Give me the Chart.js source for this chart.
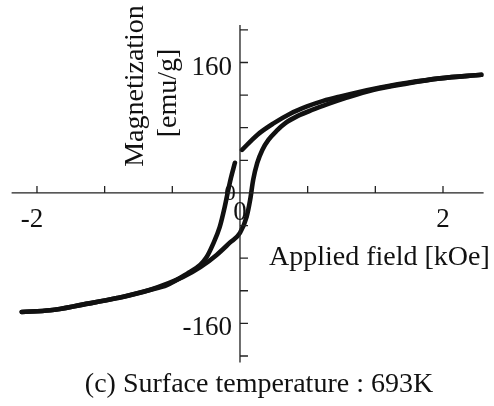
<!DOCTYPE html>
<html>
<head>
<meta charset="utf-8">
<script src="https://cdn.jsdelivr.net/npm/chart.js@4.4.1/dist/chart.umd.min.js"></script>
<style>
    body { margin: 0; background: #fff; }
    #wrap { width: 494px; height: 406px; position: relative; }
</style>
</head>
<body>
<div id="wrap"><canvas id="loopChart"></canvas></div>
<script>
// Hysteresis loop, field in kOe, magnetization in emu/g
// descending branch (from +H down to -H), null marks the break near the origin
const descField = [2.38, 1.97, 1.65, 1.31, 0.99, 0.82, 0.66, 0.49, 0.33, 0.17, 0.02, null,
    -0.05, -0.09, -0.12, -0.15, -0.20, -0.27, -0.33, -0.39, -0.52, -0.72, -0.89, -1.21, -1.55, -1.87, -2.15];
const descMag = [145, 140.5, 135, 127.6, 118.4, 112.9, 106.1, 96.9, 85.3, 71.2, 52.8, null,
    37, 18, 1, -17, -42, -64, -79, -88, -99, -113, -119, -129, -137, -144, -146];

// ascending branch (from -H back up to +H)
const ascField = [-2.15, -1.87, -1.55, -1.21, -0.89, -0.56, -0.39, -0.23, -0.10, 0.00, 0.066,
    0.10, 0.13, 0.17, 0.22, 0.28, 0.36, 0.45, 0.57, 0.71, 0.87, 1.03, 1.31, 1.65, 1.97, 2.38];
const ascMag = [-146, -144, -137, -129, -119, -103, -91, -76, -61, -49, -29,
    -8.6, 16, 36.8, 52.8, 65, 76.1, 85.9, 94.5, 101.8, 109.2, 116, 126.4, 134.4, 140.5, 145];

const xTickValues = [-2, -4 / 3, -2 / 3, 2 / 3, 4 / 3, 2];
const xTickLabels = [-2, 0, 2];
const yTickValues = [-200, -160, -120, -80, -40, 40, 80, 120, 160, 200];
const yTickLabels = [160, -160];

const SERIF = '"Liberation Serif", "Times New Roman", serif';
const INK = '#111';

function toPoints(xs, ys) {
    return xs.map((x, i) => ({ x: x === null ? NaN : x, y: ys[i] }));
}

// axes cross at the origin, so they are drawn by hand from the scales
const crossAxes = {
    id: 'crossAxes',
    afterDatasetsDraw(chart) {
        const ctx = chart.ctx;
        const area = chart.chartArea;
        const xs = chart.scales.x;
        const ys = chart.scales.y;
        const x0 = xs.getPixelForValue(0);
        const y0 = ys.getPixelForValue(0);

        ctx.save();
        ctx.strokeStyle = '#222';
        ctx.lineWidth = 1.3;
        ctx.beginPath();
        ctx.moveTo(area.left, y0);
        ctx.lineTo(area.right, y0);
        ctx.moveTo(x0, area.top);
        ctx.lineTo(x0, area.bottom);
        // x ticks point up, y ticks point right
        xTickValues.forEach(v => {
            const px = xs.getPixelForValue(v);
            ctx.moveTo(px, y0);
            ctx.lineTo(px, y0 - 7);
        });
        yTickValues.forEach(v => {
            const py = ys.getPixelForValue(v);
            ctx.moveTo(x0, py);
            ctx.lineTo(x0 + 8, py);
        });
        ctx.stroke();

        ctx.fillStyle = INK;
        ctx.textBaseline = 'alphabetic';

        // tick labels
        ctx.font = '27px ' + SERIF;
        ctx.textAlign = 'center';
        xTickLabels.forEach(v => {
            const px = xs.getPixelForValue(v);
            if (v === 0) {
                ctx.fillText('0', px, y0 + 27);
            } else if (v < 0) {
                ctx.fillText(String(v), px - 5, y0 + 34);
            } else {
                ctx.fillText(String(v), px, y0 + 34);
            }
        });
        ctx.textAlign = 'right';
        yTickLabels.forEach(v => {
            ctx.fillText(String(v), x0 - 8, ys.getPixelForValue(v) + 12);
        });
        ctx.font = '23px ' + SERIF;
        ctx.textAlign = 'center';
        ctx.fillText('0', x0 - 10, y0 + 7);

        // axis titles
        ctx.font = '28px ' + SERIF;
        ctx.textAlign = 'left';
        ctx.fillText('Applied field [kOe]', 269, 265);
        ctx.textAlign = 'center';
        ctx.fillText('(c) Surface temperature : 693K', 259, 392);

        ctx.save();
        ctx.translate(143, 86);
        ctx.rotate(-Math.PI / 2);
        ctx.fillText('Magnetization', 0, 0);
        ctx.restore();
        ctx.save();
        ctx.translate(176, 93);
        ctx.rotate(-Math.PI / 2);
        ctx.fillText('[emu/g]', 0, 0);
        ctx.restore();

        ctx.restore();
    }
};

const lineStyle = {
    borderColor: INK,
    borderWidth: 4.6,
    borderCapStyle: 'round',
    borderJoinStyle: 'round',
    pointRadius: 0,
    cubicInterpolationMode: 'monotone',
    fill: false,
    spanGaps: false
};

new Chart(document.getElementById('loopChart'), {
    type: 'line',
    data: {
        datasets: [
            Object.assign({ label: 'descending', data: toPoints(descField, descMag) }, lineStyle),
            Object.assign({ label: 'ascending', data: toPoints(ascField, ascMag) }, lineStyle)
        ]
    },
    options: {
        responsive: true,
        maintainAspectRatio: false,
        animation: false,
        layout: {
            padding: { left: 11.6, right: 10.4, top: 25, bottom: 43.5 }
        },
        scales: {
            x: { type: 'linear', min: -2.25, max: 2.4, display: false },
            y: { type: 'linear', min: -208, max: 206, display: false }
        },
        plugins: {
            legend: { display: false },
            tooltip: { enabled: false }
        }
    },
    plugins: [crossAxes]
});
</script>
</body>
</html>
